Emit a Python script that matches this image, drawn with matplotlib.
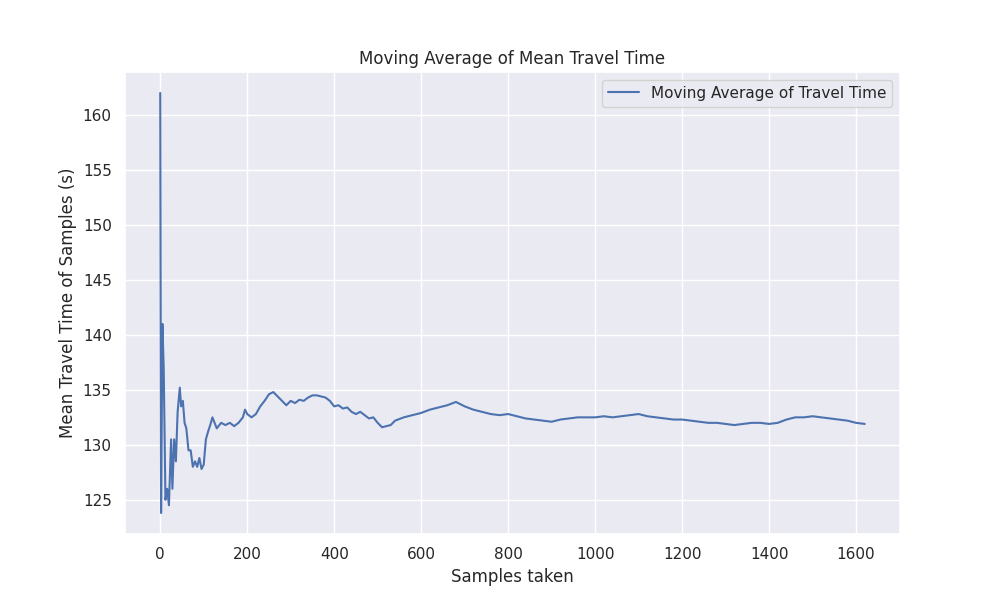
import matplotlib
matplotlib.use("Agg")
import matplotlib.pyplot as plt
import seaborn as sns

samples = [0,2,5,8,12,16,20,25,28,32,36,40,45,48,52,56,60,65,70,75,80,85,90,95,100,105,110,115,120,125,130,140,150,160,170,180,190,195,200,210,220,230,240,250,260,270,280,290,300,310,320,330,340,350,360,370,380,390,400,410,420,430,440,450,460,470,480,490,500,510,520,530,540,560,580,600,620,640,660,680,700,720,740,760,780,800,820,840,860,880,900,920,940,960,980,1000,1020,1040,1060,1080,1100,1120,1140,1160,1180,1200,1220,1240,1260,1280,1300,1320,1340,1360,1380,1400,1420,1440,1460,1480,1500,1520,1540,1560,1580,1600,1620]
travel = [162,123.8,141,137,125,126,124.5,130.5,126,130.5,128.5,133,135.2,133.5,134,132,131.5,129.5,129.5,128,128.5,128,128.8,127.8,128.2,130.5,131.2,131.8,132.5,132,131.5,132,131.8,132,131.7,132,132.5,133.2,132.8,132.5,132.8,133.5,134,134.6,134.8,134.4,134,133.6,134,133.8,134.1,134,134.3,134.5,134.5,134.4,134.3,134,133.5,133.6,133.3,133.4,133,132.8,133,132.7,132.4,132.5,132,131.6,131.7,131.8,132.2,132.5,132.7,132.9,133.2,133.4,133.6,133.9,133.5,133.2,133,132.8,132.7,132.8,132.6,132.4,132.3,132.2,132.1,132.3,132.4,132.5,132.5,132.5,132.6,132.5,132.6,132.7,132.8,132.6,132.5,132.4,132.3,132.3,132.2,132.1,132.0,132,131.9,131.8,131.9,132,132,131.9,132,132.3,132.5,132.5,132.6,132.5,132.4,132.3,132.2,132,131.9]

sns.set_theme(style="darkgrid")
fig, ax = plt.subplots(figsize=(10, 6), dpi=100)
ax.plot(samples, travel, label="Moving Average of Travel Time")
ax.set_title("Moving Average of Mean Travel Time")
ax.set_xlabel("Samples taken")
ax.set_ylabel("Mean Travel Time of Samples (s)")
ax.legend(loc="upper right")
fig.savefig("out.png")
